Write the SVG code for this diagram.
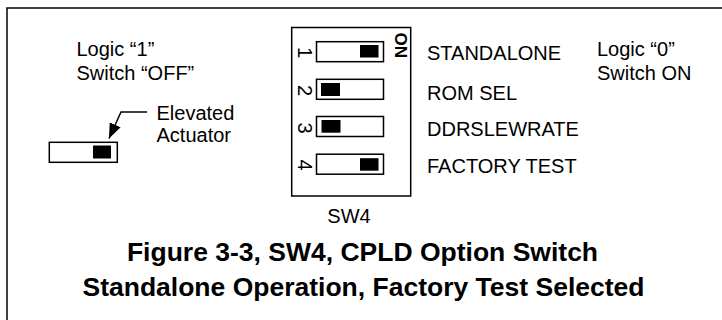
<svg xmlns="http://www.w3.org/2000/svg" width="722" height="320" viewBox="0 0 722 320">
<style>
text{font-family:"Liberation Sans",Arial,Helvetica,sans-serif;fill:#000}
.lbl{font-size:20px}
.title{font-size:26.5px;font-weight:bold;text-anchor:middle}
.box{fill:#fff;stroke:#000;stroke-width:1.5}
.knob{fill:#000}
.num{font-size:20px;text-anchor:middle}
.conn{fill:none;stroke:#000;stroke-width:1.5}
</style>
<defs>
<marker id="arr" viewBox="0 0 15 12" markerWidth="15" markerHeight="12" refX="15" refY="6" markerUnits="userSpaceOnUse" orient="auto">
<path d="M0,0 L15,6 L0,12 Z" fill="#000"/>
</marker>
</defs>
<rect width="722" height="320" fill="#fff"/>
<path d="M7,320 V8 H722" fill="none" stroke="#000" stroke-width="1.5"/>

<g id="logic1-label">
<text class="lbl" x="76.5" y="56">Logic “1”</text>
<text class="lbl" x="76.5" y="79.5">Switch “OFF”</text>
</g>
<g id="logic0-label">
<text class="lbl" x="597" y="56">Logic “0”</text>
<text class="lbl" x="597" y="79.5">Switch ON</text>
</g>

<g id="elevated-label">
<text class="lbl" x="156.5" y="120">Elevated</text>
<text class="lbl" x="156.5" y="142">Actuator</text>
</g>
<g id="example-switch">
<rect class="box" x="49.3" y="142.3" width="68" height="20"/>
<rect class="knob" x="93" y="145.5" width="18" height="13"/>
</g>

<g id="sw4">
<rect class="box" x="291.7" y="27.5" width="119" height="168.5"/>
<text transform="translate(395,45.3) rotate(90)" style="font-size:17px;font-weight:bold;text-anchor:middle">ON</text>
<g id="toggle1">
<text class="num" transform="translate(298,52.5) rotate(90)">1</text>
<rect class="box" x="316.5" y="41.7" width="67" height="20"/>
<rect class="knob" x="360" y="45" width="18.5" height="12.5"/>
</g>
<g id="toggle2">
<text class="num" transform="translate(298,90.5) rotate(90)">2</text>
<rect class="box" x="316.5" y="79.3" width="67" height="20"/>
<rect class="knob" x="321" y="83" width="19" height="13"/>
</g>
<g id="toggle3">
<text class="num" transform="translate(298,128) rotate(90)">3</text>
<rect class="box" x="316.5" y="116.5" width="67" height="20"/>
<rect class="knob" x="321.5" y="120" width="19" height="12.7"/>
</g>
<g id="toggle4">
<text class="num" transform="translate(298,165) rotate(90)">4</text>
<rect class="box" x="316.5" y="154.2" width="67" height="20"/>
<rect class="knob" x="360" y="158.2" width="18.5" height="12.5"/>
</g>
<text class="lbl" x="349" y="223" text-anchor="middle">SW4</text>
</g>

<g id="option-labels">
<text class="lbl" x="427" y="59.5">STANDALONE</text>
<text class="lbl" x="427" y="100">ROM SEL</text>
<text class="lbl" x="427" y="136">DDRSLEWRATE</text>
<text class="lbl" x="427" y="173">FACTORY TEST</text>
</g>

<g id="caption">
<text class="title" x="362.5" y="260.5">Figure 3-3, SW4, CPLD Option Switch</text>
<text class="title" x="363.5" y="296">Standalone Operation, Factory Test Selected</text>
</g>

<g id="connectors">
<polyline class="conn" points="147,112 121,112 109,138.5" marker-end="url(#arr)"/>
</g>
</svg>
